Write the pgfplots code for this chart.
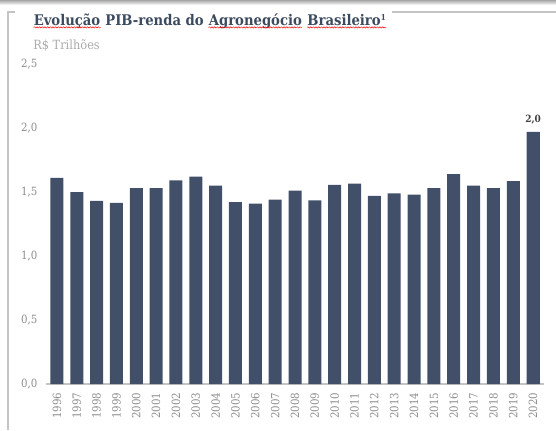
\documentclass[border=0pt]{standalone}
\usepackage{fontspec}
\setmainfont{DejaVu Serif Condensed}
\usepackage{pgfplots}
\pgfplotsset{compat=1.18}
\usetikzlibrary{decorations.pathmorphing}

\definecolor{barcol}{HTML}{415068}
\definecolor{titlecol}{HTML}{3B4A5E}
\definecolor{tickcol}{HTML}{8C8C8C}
\definecolor{unitcol}{HTML}{ABABAB}
\definecolor{framecol}{HTML}{C4C4C4}

% word with a red wavy underline (spell check marks in the screenshot)
\newcommand{\sw}[1]{\tikz[baseline=(w.base)]{\node[inner sep=0pt, anchor=center](w){#1};
  \draw[red, line width=0.35pt, decorate, decoration={snake, amplitude=0.5pt, segment length=2pt}]
    ([yshift=-1.8pt]w.base west) -- ([yshift=-1.8pt]w.base east);}}
\newcommand{\titlefont}{\bfseries\fontsize{11}{13}\selectfont}
\newsavebox\wA \newsavebox\wB \newsavebox\wC

\begin{document}
\sbox\wA{\titlefont\color{titlecol}\sw{Evolução}}%
\sbox\wB{\titlefont\color{titlecol}\sw{Agronegócio}}%
\sbox\wC{\titlefont\color{titlecol}\sw{Brasileiro\raisebox{3.2pt}{\fontsize{6}{7}\selectfont 1}}}%
\begin{tikzpicture}
  \useasboundingbox (0,0) rectangle (417pt,322.5pt);
  % frame round the chart, coordinates in pixels from top left
  \begin{scope}[x=0.75pt,y=-0.75pt,yshift=322.5pt]
    \shade[top color=gray!70, bottom color=white] (0,0) rectangle (556,5);
    \draw[framecol, line width=1.5pt] (15,12) -- (8,12) -- (8,430);
    \draw[framecol, line width=1.2pt] (392,12) -- (556,12);
    \node[anchor=base west, inner sep=0pt, font=\titlefont, text=titlecol]
      at (33,25) {\usebox\wA{} PIB-renda do \usebox\wB{} \usebox\wC};
    \node[anchor=base west, inner sep=0pt, font=\fontsize{9.5}{11}\selectfont, text=unitcol]
      at (33,49) {R\$ Trilhões};
  \end{scope}

  \begin{axis}[
    at={(34.5pt,34.5pt)}, anchor=south west,
    scale only axis, width=373.5pt, height=240pt,
    xmin=-0.55, xmax=24.55, ymin=0, ymax=2.5,
    axis lines*=left,
    x axis line style={draw=framecol, line width=0.8pt, -},
    y axis line style={draw=none},
    major tick length=0pt,
    xtick=data,
    xticklabels={1996,1997,1998,1999,2000,2001,2002,2003,2004,2005,2006,2007,2008,2009,2010,2011,2012,2013,2014,2015,2016,2017,2018,2019,2020},
    ytick={0,0.5,1,1.5,2,2.5},
    /pgf/number format/.cd, fixed, fixed zerofill, precision=1, use comma, assume math mode=true,
    /pgfplots/.cd,
    tick label style={font=\fontsize{8.5}{10}\selectfont, text=tickcol},
    xticklabel style={rotate=90, anchor=east},
    xticklabel shift=3pt,
    yticklabel style={anchor=east, xshift=-3pt},
    ybar, bar width=9.75pt, bar shift=0pt,
  ]
    \addplot[fill=barcol, draw=none] coordinates {
      (0,1.61) (1,1.50) (2,1.43) (3,1.415) (4,1.53) (5,1.53) (6,1.59) (7,1.62)
      (8,1.55) (9,1.42) (10,1.41) (11,1.44) (12,1.51) (13,1.435) (14,1.555)
      (15,1.565) (16,1.47) (17,1.49) (18,1.48) (19,1.53) (20,1.64) (21,1.55)
      (22,1.53) (23,1.585) (24,1.97)
    };
    \addplot[fill=barcol, draw=none, nodes near coords,
      every node near coord/.append style={font=\bfseries\fontsize{7.5}{9}\selectfont, text=black!75, yshift=2pt}]
      coordinates {(24,1.97)};
  \end{axis}
\end{tikzpicture}
\end{document}
